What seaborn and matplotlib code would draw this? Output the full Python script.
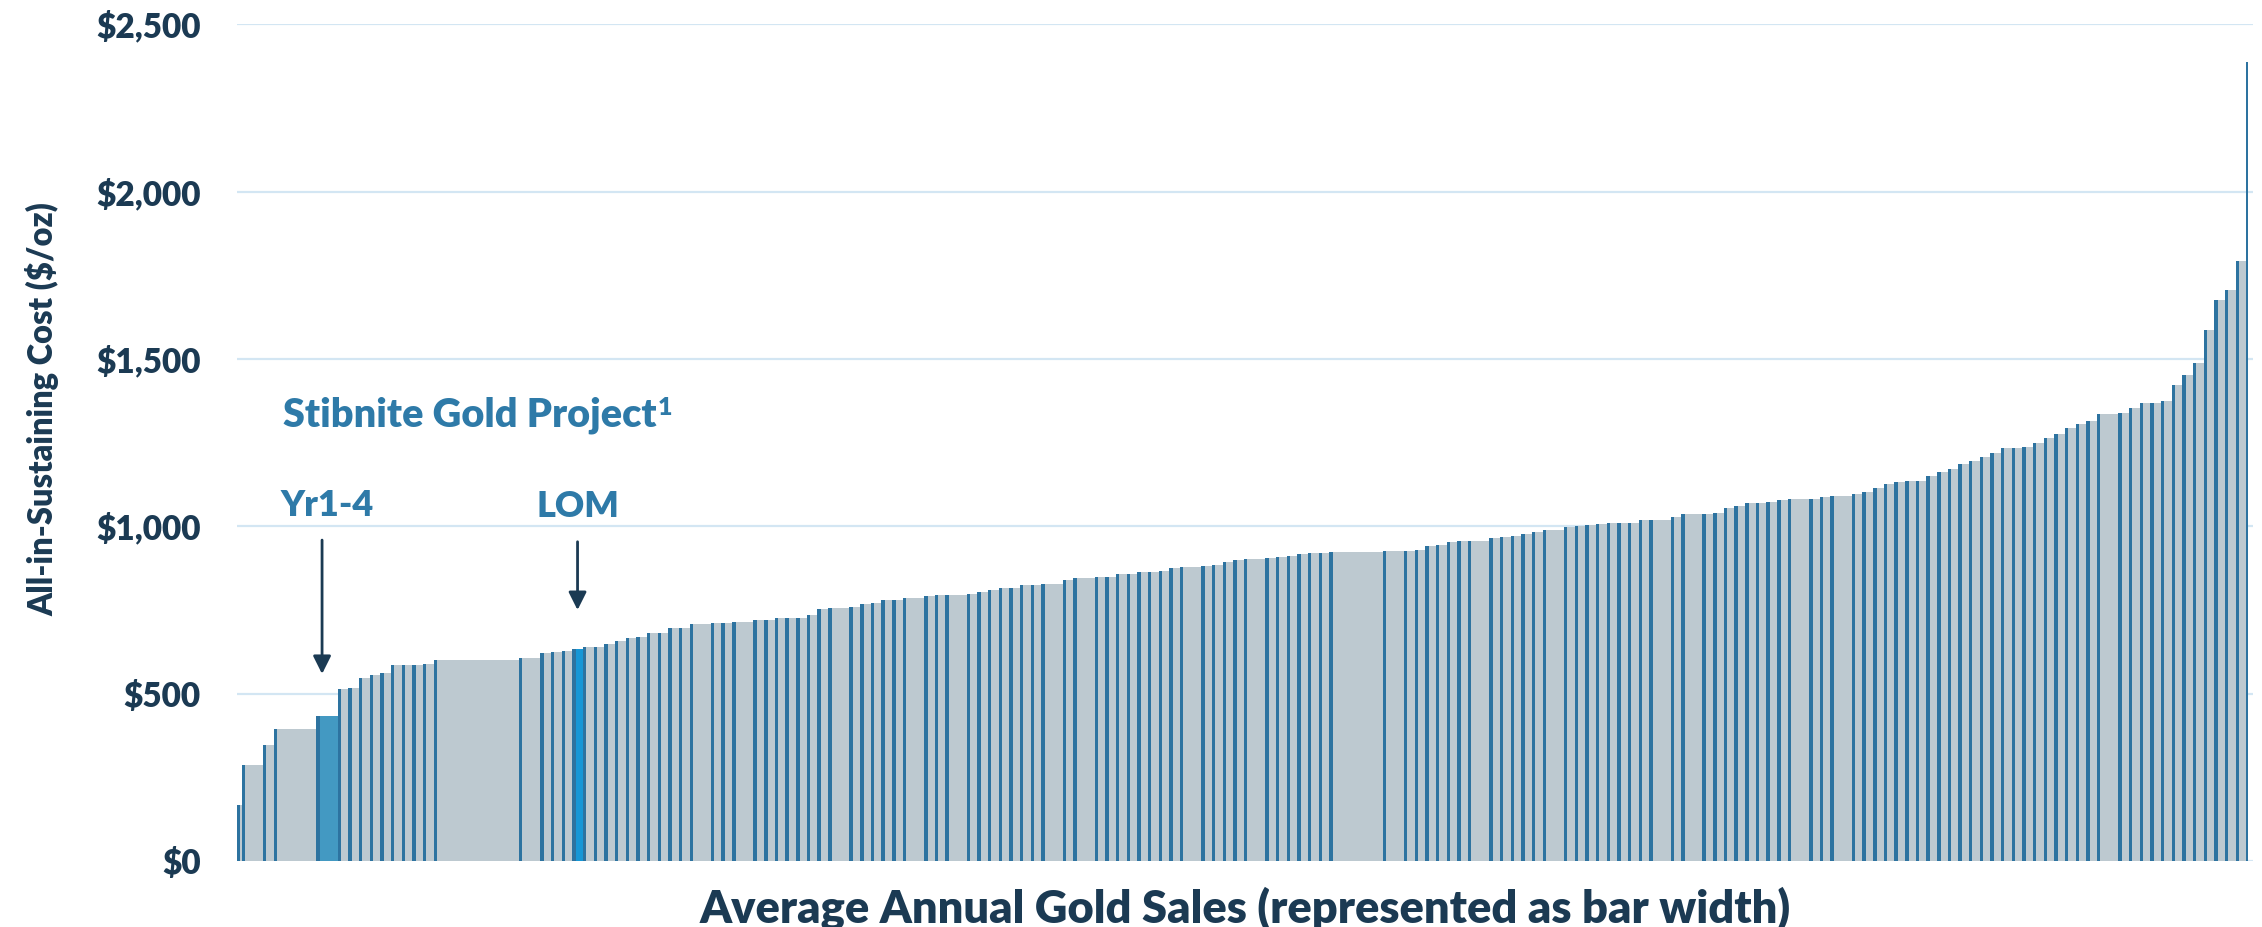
import matplotlib
matplotlib.use("Agg")
import matplotlib.pyplot as plt
import numpy as np
import pandas as pd
import seaborn as sns

# average annual gold sales per mine (koz/yr) -> bar width
gold_sales = [
    100, 430, 215, 860, 430, 215, 215, 215, 215, 215, 215, 215, 215, 215, 1720, 430, 215, 215, 215, 215,
    215, 215, 215, 215, 215, 215, 215, 215, 215, 215, 430, 215, 215, 430, 215, 215, 215, 215, 215, 215,
    215, 430, 215, 215, 215, 215, 215, 430, 215, 215, 430, 215, 215, 215, 215, 215, 215, 215, 430, 215,
    430, 215, 215, 215, 215, 215, 215, 215, 215, 430, 215, 215, 215, 215, 430, 215, 215, 215, 215, 215,
    215, 1075, 430, 215, 215, 215, 215, 215, 215, 430, 215, 215, 215, 215, 215, 430, 215, 215, 215, 215,
    215, 215, 215, 215, 430, 215, 430, 215, 215, 215, 215, 215, 215, 215, 215, 430, 215, 215, 430, 215,
    215, 215, 215, 215, 215, 215, 215, 215, 215, 215, 215, 215, 215, 215, 215, 215, 215, 215, 215, 215,
    215, 215, 430, 215, 215, 215, 215, 215, 215, 215, 215, 215, 215, 215, 215, 40,
]

# all-in sustaining cost per mine ($/oz) -> bar height
aisc = [
    167, 287, 347, 394, 432, 515, 518, 546, 555, 562, 585, 585, 585, 590, 600, 606, 621, 625, 628, 633,
    640, 640, 649, 657, 665, 668, 680, 680, 696, 697, 707, 710, 710, 715, 720, 721, 725, 726, 727, 735,
    752, 755, 758, 767, 772, 779, 781, 785,
    792, 794, 794, 797, 805, 810, 815, 816, 824, 825, 829, 840, 846, 848, 849, 857, 858, 864, 865, 866,
    876, 879, 883, 884, 893, 900, 903,
    904, 907, 912, 916, 920, 920, 922, 925, 926, 928, 942, 945, 952, 956, 956, 966, 969, 971, 978, 984,
    989, 998, 1002, 1003, 1006,
    1009, 1009, 1010, 1019, 1019, 1028, 1036, 1036, 1041, 1055, 1061, 1069, 1070, 1072, 1080, 1083, 1083,
    1089, 1092, 1097, 1103, 1115, 1127, 1133, 1135, 1136, 1151, 1162,
    1172, 1187, 1194, 1208, 1219, 1233, 1233, 1238, 1248, 1264, 1276, 1295, 1305, 1316, 1335, 1339, 1353,
    1369, 1369, 1376, 1423, 1451, 1488, 1587, 1676, 1705, 1793, 2388,
]

# Stibnite Gold Project bars
yr14_idx = 4
lom_idx = 19

y_ticks = [0, 500, 1000, 1500, 2000, 2500]
y_tick_labels = ['$0', '$500', '$1,000', '$1,500', '$2,000', '$2,500']

GREY = '#bdc9d0'
EDGE = '#2d73a0'
YR14_COLOR = '#4399c2'
LOM_COLOR = '#1797d6'
NAVY = '#1b3a53'
TEXT_BLUE = '#2e7aa8'
GRID = '#d3e6f3'
WEIGHT = 'heavy'

sns.set_theme(style='white')
plt.rcParams['font.family'] = ['Lato', 'DejaVu Sans']

df = pd.DataFrame({'mine': [f'm{i}' for i in range(len(aisc))],
                   'sales': gold_sales, 'aisc': aisc})
df['left'] = df['sales'].cumsum() - df['sales']
total = df['sales'].sum()

colors = {m: GREY for m in df['mine']}
colors[df['mine'][yr14_idx]] = YR14_COLOR
colors[df['mine'][lom_idx]] = LOM_COLOR

fig = plt.figure(figsize=(22.62, 9.27), dpi=100)
ax = fig.add_axes([236.7 / 2262, 1 - 861 / 927, (2253 - 236.7) / 2262, (861 - 24.4) / 927])

sns.barplot(data=df, x='mine', y='aisc', hue='mine', palette=colors, legend=False,
            width=1, saturation=1, errorbar=None, linewidth=0, ax=ax)

# turn the categorical bars into variable-width bars (width = gold sales)
for p in ax.patches:
    i = int(round(p.get_x() + p.get_width() / 2))
    p.set_x(df['left'][i])
    p.set_width(df['sales'][i])

# dark line on the left edge of every bar
edge_w = np.minimum(total * 0.0017, df['sales'])
ax.bar(df['left'], df['aisc'], width=edge_w, align='edge', color=EDGE, linewidth=0, zorder=3)

ax.set_xlim(0, total * 1.00234)
ax.set_ylim(0, 2500)
ax.set_xticks([])
ax.set_yticks(y_ticks, y_tick_labels, fontweight=WEIGHT)
ax.tick_params(axis='y', length=0, pad=26, labelsize=24, labelcolor=NAVY)
ax.grid(axis='y', color=GRID, linewidth=1.6)
ax.grid(axis='x', visible=False)
ax.set_axisbelow(True)
sns.despine(ax=ax, left=True, bottom=True)

ax.set_xlabel('Average Annual Gold Sales (represented as bar width)', fontsize=32.6,
              fontweight=WEIGHT, color=NAVY, va='baseline')
ax.xaxis.set_label_coords(0.5, -0.0729)
ax.set_ylabel('All-in-Sustaining Cost ($/oz)', fontsize=23.5, fontweight=WEIGHT,
              color=NAVY, va='center')
ax.yaxis.set_label_coords(-0.0962, 0.54)

# Stibnite annotations
yr_left = df['left'][yr14_idx]
yr_w = df['sales'][yr14_idx]
lom_c = df['left'][lom_idx] + df['sales'][lom_idx] / 2

title = ax.text(0.0228, 1297, 'Stibnite Gold Project', transform=ax.get_yaxis_transform(),
                ha='left', va='baseline', fontsize=28.5, fontweight=WEIGHT, color=TEXT_BLUE)
ax.annotate('1', xy=(1, 1), xycoords=title, xytext=(1, 0), textcoords='offset points',
            ha='left', va='top', fontsize=18, fontweight=WEIGHT, color=TEXT_BLUE)

ax.text(yr_left + yr_w / 2, 1032, 'Yr1-4', ha='center', va='baseline', fontsize=26,
        fontweight=WEIGHT, color=TEXT_BLUE)
ax.text(lom_c, 1029, 'LOM', ha='center', va='baseline', fontsize=26,
        fontweight=WEIGHT, color=TEXT_BLUE)

arrow = dict(arrowstyle='-|>', color=NAVY, lw=2, mutation_scale=27, shrinkA=0, shrinkB=0)
ax.annotate('', xy=(yr_left + 0.27 * yr_w, 559), xytext=(yr_left + 0.27 * yr_w, 959), arrowprops=arrow)
ax.annotate('', xy=(lom_c, 750), xytext=(lom_c, 954), arrowprops=arrow)

fig.savefig('out.png', dpi=100)
